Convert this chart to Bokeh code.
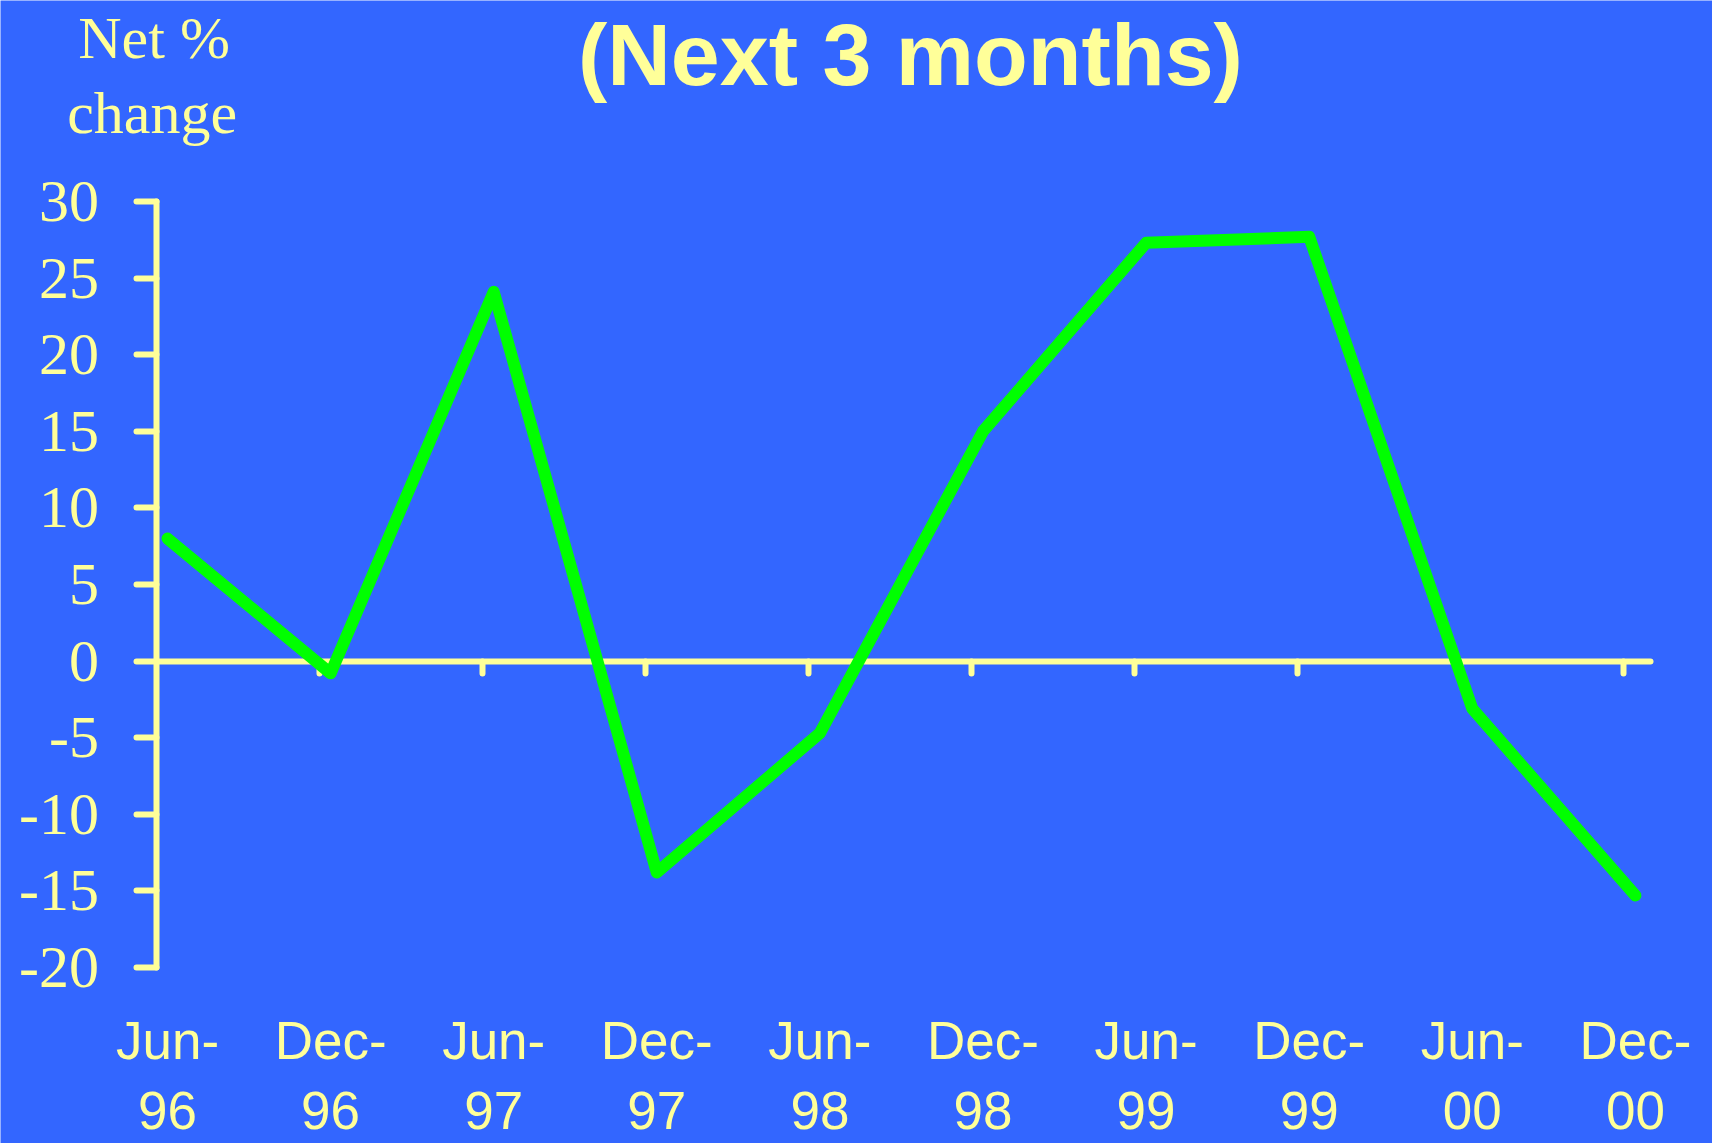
from bokeh.plotting import figure
from bokeh.models import Range1d, LinearAxis, FixedTicker, Label
from bokeh.embed import file_html
from bokeh.resources import INLINE

# ---- data ----
categories = ["Jun-96", "Dec-96", "Jun-97", "Dec-97", "Jun-98",
              "Dec-98", "Jun-99", "Dec-99", "Jun-00", "Dec-00"]
month_labels = ["Jun-", "Dec-", "Jun-", "Dec-", "Jun-",
                "Dec-", "Jun-", "Dec-", "Jun-", "Dec-"]
year_labels = ["96", "96", "97", "97", "98", "98", "99", "99", "00", "00"]
net_change = [8.0, -0.8, 24.1, -13.8, -4.7, 15.0, 27.3, 27.7, -3.1, -15.3]
y_ticks = [-20, -15, -10, -5, 0, 5, 10, 15, 20, 25, 30]

BG = "#3366FF"
FG = "#FFFF99"
LINE = "#00FF00"

# ---- layout constants (pixels) ----
W, H = 1712, 1143
PX0, PXU = 167.0, 163.1        # pixel of first category, pixels per category
PY_TOP, PYU = 201.0, 15.32     # pixel of top tick, pixels per unit
y_top = y_ticks[-1]

x = list(range(len(categories)))
tick_shift = -0.07
x_axis_end = len(categories) - 1 + 0.093

x_range = Range1d(-PX0 / PXU, (W - PX0) / PXU)
y_range = Range1d(y_top - (H - PY_TOP) / PYU, y_top + PY_TOP / PYU)

p = figure(width=W, height=H, output_backend="svg", toolbar_location=None,
           x_range=x_range, y_range=y_range, x_axis_type=None, y_axis_type=None,
           min_border=0)
p.background_fill_color = BG
p.border_fill_color = BG
p.outline_line_color = None
p.grid.grid_line_color = None

# y axis
ya = LinearAxis(fixed_location=tick_shift, bounds=(y_ticks[0], y_ticks[-1]),
                ticker=FixedTicker(ticks=y_ticks),
                major_label_overrides={v: str(v) for v in y_ticks},
                axis_line_color=FG, axis_line_width=6, axis_line_cap="round",
                major_tick_line_color=FG, major_tick_line_width=6,
                major_tick_line_cap="round", major_tick_out=20, major_tick_in=0,
                minor_tick_line_color=None,
                major_label_text_color=FG, major_label_text_font="Liberation Serif",
                major_label_text_font_size="60px", major_label_standoff=37)
p.add_layout(ya, "left")

# zero line axis with tick marks between periods
zero_ticks = [i + tick_shift for i in x[1:]]
zero_axis = LinearAxis(fixed_location=0, bounds=(tick_shift, x_axis_end),
                       ticker=FixedTicker(ticks=zero_ticks),
                       major_label_overrides={t: "" for t in zero_ticks},
                       axis_line_color=FG, axis_line_width=6, axis_line_cap="round",
                       major_tick_line_color=FG, major_tick_line_width=6,
                       major_tick_line_cap="round",
                       major_tick_out=12, major_tick_in=0,
                       minor_tick_line_color=None)
zero_axis.level = "underlay"
p.add_layout(zero_axis, "below")

label_common = dict(axis_line_color=None, major_tick_line_color=None,
                    minor_tick_line_color=None, major_tick_out=0, major_tick_in=0,
                    major_label_text_color=FG, major_label_text_font="Liberation Sans",
                    major_label_text_font_size="53px")
month_axis = LinearAxis(fixed_location=y_ticks[0], ticker=FixedTicker(ticks=x),
                        major_label_overrides={i: m for i, m in zip(x, month_labels)},
                        major_label_standoff=43, **label_common)
p.add_layout(month_axis, "below")
year_axis = LinearAxis(fixed_location=y_ticks[0], ticker=FixedTicker(ticks=x),
                       major_label_overrides={i: yv for i, yv in zip(x, year_labels)},
                       major_label_standoff=124, **label_common)
p.add_layout(year_axis, "below")

p.line(x, net_change, line_color=LINE, line_width=12, line_join="round", line_cap="round")

# texts
p.add_layout(Label(x=(x[0] + x[-1]) / 2, y=y_top, x_offset=9, y_offset=147,
                   text="(Next 3 months)", text_font="Liberation Sans",
                   text_font_style="bold", text_font_size="88px", text_color=FG,
                   text_align="center", text_baseline="alphabetic"))
p.add_layout(Label(x=tick_shift, y=y_top, x_offset=-2, y_offset=164,
                   text="Net %", text_font="Liberation Serif", text_font_size="60px",
                   text_color=FG, text_align="center", text_baseline="alphabetic"))
p.add_layout(Label(x=tick_shift, y=y_top, x_offset=-4, y_offset=89,
                   text="change", text_font="Liberation Serif", text_font_size="60px",
                   text_color=FG, text_align="center", text_baseline="alphabetic"))

open("out.html", "w").write(file_html(p, INLINE))
